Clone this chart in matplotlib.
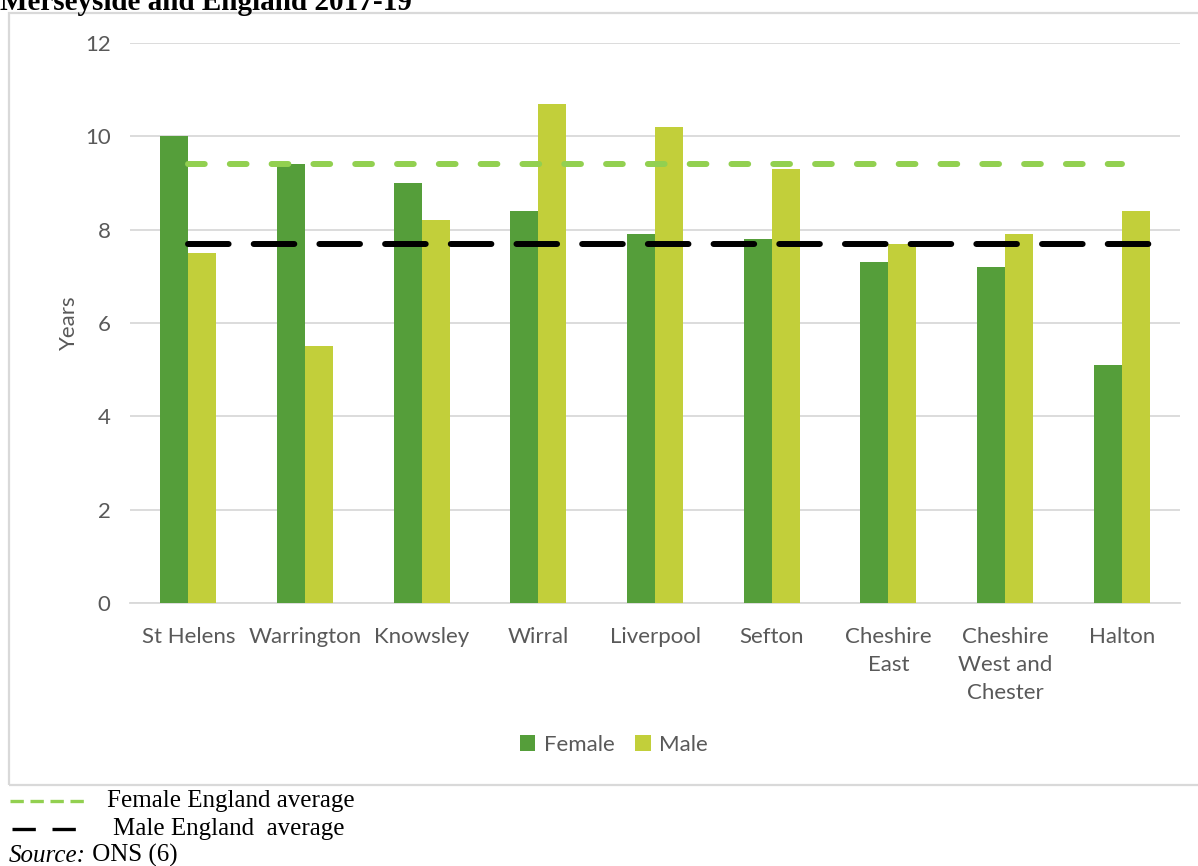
import matplotlib
matplotlib.use("Agg")
import matplotlib.pyplot as plt
from matplotlib.lines import Line2D
from matplotlib.patches import Rectangle
import numpy as np

areas = ["St Helens", "Warrington", "Knowsley", "Wirral", "Liverpool", "Sefton",
         "Cheshire\nEast", "Cheshire\nWest and\nChester", "Halton"]
female = [10.0, 9.4, 9.0, 8.4, 7.9, 7.8, 7.3, 7.2, 5.1]
male = [7.5, 5.5, 8.2, 10.7, 10.2, 9.3, 7.7, 7.9, 8.4]
female_england = 9.4
male_england = 7.7

GREEN = "#559E3A"
LIME = "#C2CF3A"
LIGHT = "#92D050"
GRID = "#D9D9D9"
TXT = "#595959"

plt.rcParams["font.family"] = ["Lato", "DejaVu Sans"]

fig = plt.figure(figsize=(11.98, 8.66), dpi=100)
ax = fig.add_axes([0.1085, 0.3037, 0.8765, 0.6466])

x = np.arange(len(areas))
w = 0.24
bf = ax.bar(x - w / 2, female, w, color=GREEN, label="Female", zorder=3)
bm = ax.bar(x + w / 2, male, w, color=LIME, label="Male", zorder=3)

# England averages as dashed lines across the areas
ax.plot([x[0], x[-1]], [female_england] * 2, color=LIGHT, lw=4.3,
        dashes=(2.8, 4.2), dash_capstyle="round", zorder=4)
ax.plot([x[0], x[-1] + 0.25], [male_england] * 2, color="black", lw=4.3,
        dashes=(6.8, 4.2), dash_capstyle="round", zorder=4)

ax.set_xlim(-0.5, len(areas) - 0.5)
ax.set_ylim(0, 12)
ax.set_yticks(range(0, 13, 2))
ax.set_xticks(x)
ax.set_xticklabels(areas, linespacing=1.5)
ax.tick_params(length=0, labelsize=16, labelcolor=TXT)
ax.tick_params(axis="x", pad=17)
ax.tick_params(axis="y", pad=14)
ax.grid(axis="y", color=GRID, lw=1.3, zorder=0)
for s in ["top", "right", "left"]:
    ax.spines[s].set_visible(False)
ax.spines["bottom"].set_color(GRID)
ax.spines["bottom"].set_linewidth(1.3)
ax.set_ylabel("Years", fontsize=16, color=TXT, labelpad=4)

fig.legend(handles=[bf, bm], loc="center", bbox_to_anchor=(614 / 1198, 1 - 745 / 866),
           ncol=2, frameon=False, fontsize=16, labelcolor=TXT,
           handlelength=0.7, handleheight=0.7, handletextpad=0.4, columnspacing=0.9)

# chart frame
fig.add_artist(Rectangle((9 / 1198, 1 - 785 / 866), 1.1, (785 - 13) / 866,
                         transform=fig.transFigure, fill=False, ec=GRID, lw=1.6))

serif = "Liberation Serif"
fig.text(0.0, 1 - 10 / 866, "Merseyside and England 2017-19", fontsize=21,
         fontweight="bold", family=serif, va="baseline", ha="left")

fig.add_artist(Line2D([10 / 1198, 85 / 1198], [1 - 801 / 866] * 2, transform=fig.transFigure,
                      color=LIGHT, lw=2.4, dashes=(4, 2)))
fig.add_artist(Line2D([12 / 1198, 85 / 1198], [1 - 829 / 866] * 2, transform=fig.transFigure,
                      color="black", lw=2.4, dashes=(7, 5)))
fig.text(107 / 1198, 1 - 801 / 866, "Female England average", fontsize=18,
         family=serif, va="center")
fig.text(113 / 1198, 1 - 829 / 866, "Male England  average", fontsize=18,
         family=serif, va="center")
src = fig.text(9 / 1198, 1 - 862 / 866, "Source:", fontsize=18, family=serif,
               style="italic", va="baseline")
ax.annotate(" ONS (6)", xy=(1, 0), xycoords=src, fontsize=18, family=serif,
            va="bottom", ha="left", annotation_clip=False)

fig.savefig("out.png", dpi=100)
